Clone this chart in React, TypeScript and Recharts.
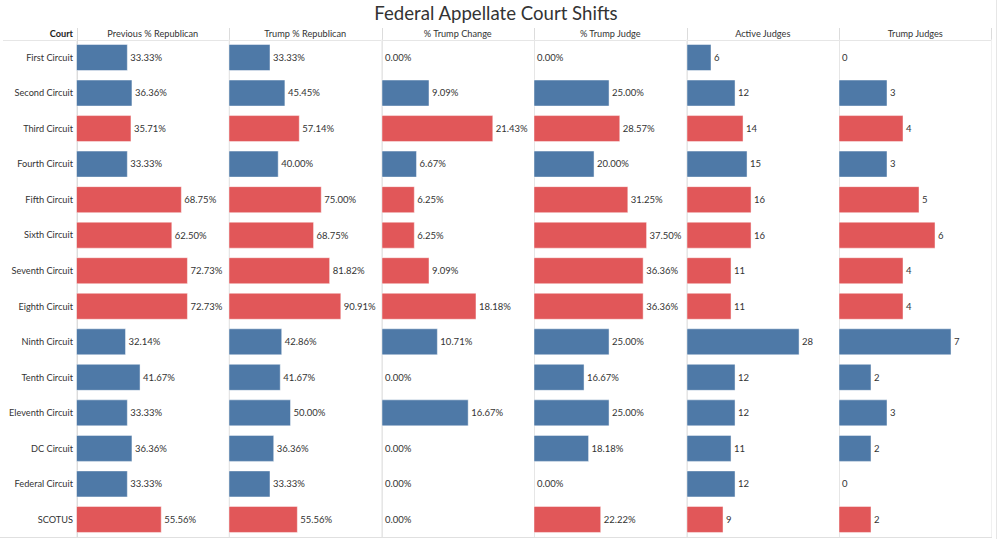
import { BarChart, Bar, XAxis, YAxis, CartesianGrid, Cell, LabelList } from "recharts";

const courts = [
  "First Circuit",
  "Second Circuit",
  "Third Circuit",
  "Fourth Circuit",
  "Fifth Circuit",
  "Sixth Circuit",
  "Seventh Circuit",
  "Eighth Circuit",
  "Ninth Circuit",
  "Tenth Circuit",
  "Eleventh Circuit",
  "DC Circuit",
  "Federal Circuit",
  "SCOTUS",
];
const previousPct = [33.33, 36.36, 35.71, 33.33, 68.75, 62.5, 72.73, 72.73, 32.14, 41.67, 33.33, 36.36, 33.33, 55.56];
const trumpPct = [33.33, 45.45, 57.14, 40.0, 75.0, 68.75, 81.82, 90.91, 42.86, 41.67, 50.0, 36.36, 33.33, 55.56];
const trumpChange = [0, 9.09, 21.43, 6.67, 6.25, 6.25, 9.09, 18.18, 10.71, 0, 16.67, 0, 0, 0];
const trumpJudgePct = [0, 25.0, 28.57, 20.0, 31.25, 37.5, 36.36, 36.36, 25.0, 16.67, 25.0, 18.18, 0, 22.22];
const activeJudges = [6, 12, 14, 15, 16, 16, 11, 11, 28, 12, 12, 11, 12, 9];
const trumpJudges = [0, 3, 4, 3, 5, 6, 4, 4, 7, 2, 3, 2, 0, 2];

const BLUE = "#4e79a7";
const RED = "#e15759";
const FONT = "Lato, 'Open Sans', sans-serif";

const rows = courts.map((court, i) => ({
  court,
  previousPct: previousPct[i],
  trumpPct: trumpPct[i],
  trumpChange: trumpChange[i],
  trumpJudgePct: trumpJudgePct[i],
  activeJudges: activeJudges[i],
  trumpJudges: trumpJudges[i],
}));

const pct = (v: number) => v.toFixed(2) + "%";
const whole = (v: number) => String(v);

const panels = [
  { key: "previousPct", title: "Previous % Republican", max: 100, ticks: [0, 20, 40, 60, 80, 100], fmt: pct },
  { key: "trumpPct", title: "Trump % Republican", max: 124, ticks: [0, 20, 40, 60, 80, 100, 120], fmt: pct },
  { key: "trumpChange", title: "% Trump Change", max: 29.5, ticks: [0, 5, 10, 15, 20, 25], fmt: pct },
  { key: "trumpJudgePct", title: "% Trump Judge", max: 50.8, ticks: [0, 10, 20, 30, 40, 50], fmt: pct },
  { key: "activeJudges", title: "Active Judges", max: 38.1, ticks: [0, 10, 20, 30], fmt: whole },
  { key: "trumpJudges", title: "Trump Judges", max: 9.53, ticks: [0, 2, 4, 6, 8], fmt: whole },
];

const LEFT0 = 76.5;
const PW = 152.5;
const LINE = "#dcdcdc";

function CourtTick(props: any) {
  const { x, y, payload } = props;
  return (
    <text x={x} y={y} dy={3.5} textAnchor="end" fontSize={9.2} fill="#333" fontFamily={FONT}>
      {payload.value}
    </text>
  );
}

export default function App() {
  return (
    <div
      style={{
        position: "absolute",
        left: 0,
        top: 0,
        width: 1000,
        height: 539,
        background: "#fff",
        fontFamily: FONT,
        overflow: "hidden",
      }}
    >
      <div
        style={{
          position: "absolute",
          left: 0,
          width: 992,
          top: 2,
          textAlign: "center",
          fontSize: 18.6,
          color: "#333",
        }}
      >
        Federal Appellate Court Shifts
      </div>

      {/* header row */}
      <div
        style={{
          position: "absolute",
          right: 1000 - 73,
          top: 28,
          fontSize: 9.2,
          fontWeight: "bold",
          color: "#222",
        }}
      >
        Court
      </div>
      <div style={{ position: "absolute", left: 3, top: 40, width: 989, height: 1, background: "#e6e6e6" }} />
      <div style={{ position: "absolute", left: 0, top: 537, width: 992, height: 1, background: "#e0e0e0" }} />
      <div style={{ position: "absolute", left: 996, top: 0, width: 1, height: 539, background: "#e6e6e6" }} />

      {panels.map((p, i) => {
        const left = LEFT0 + i * PW;
        const first = i === 0;
        return (
          <div key={p.key}>
            <div
              style={{
                position: "absolute",
                left,
                top: 28,
                width: PW,
                height: 509,
                borderLeft: `1px solid ${LINE}`,
                borderRight: i === panels.length - 1 ? `1px solid ${LINE}` : undefined,
                boxSizing: "border-box",
              }}
            />
            <div
              style={{
                position: "absolute",
                left,
                top: 28,
                width: PW,
                textAlign: "center",
                fontSize: 9.2,
                color: "#333",
              }}
            >
              {p.title}
            </div>
            <div style={{ position: "absolute", left: first ? 0 : left, top: 0 }}>
              <BarChart
                width={first ? left + PW : PW}
                height={539}
                data={rows}
                layout="vertical"
                margin={{ top: 39.5, bottom: 2, left: 0, right: 0 }}
                barSize={26}
              >
                <CartesianGrid horizontal={false} stroke="#f0f0f0" />
                <XAxis
                  type="number"
                  domain={[0, p.max]}
                  ticks={p.ticks}
                  allowDataOverflow
                  tick={false}
                  tickLine={false}
                  axisLine={false}
                  height={0}
                />
                <YAxis
                  type="category"
                  dataKey="court"
                  width={first ? left : 0}
                  hide={!first}
                  axisLine={false}
                  tickLine={false}
                  tickSize={0}
                  tickMargin={3.5}
                  tick={<CourtTick />}
                  interval={0}
                />
                <Bar
                  dataKey={p.key}
                  isAnimationActive={false}
                  minPointSize={0.01}
                  stroke="#ffffff"
                  strokeOpacity={0.45}
                >
                  {rows.map((r, j) => {
                    const v = (r as any)[p.key] as number;
                    return (
                      <Cell
                        key={j}
                        fill={v > 0 ? (r.trumpPct > 50 ? RED : BLUE) : "none"}
                        stroke={v > 0 ? "#ffffff" : "none"}
                      />
                    );
                  })}
                  <LabelList
                    dataKey={p.key}
                    position="right"
                    offset={3}
                    formatter={(v: any) => p.fmt(Number(v))}
                    style={{ fontSize: 9.5, fill: "#333", fontFamily: FONT }}
                  />
                </Bar>
              </BarChart>
            </div>
          </div>
        );
      })}
    </div>
  );
}
